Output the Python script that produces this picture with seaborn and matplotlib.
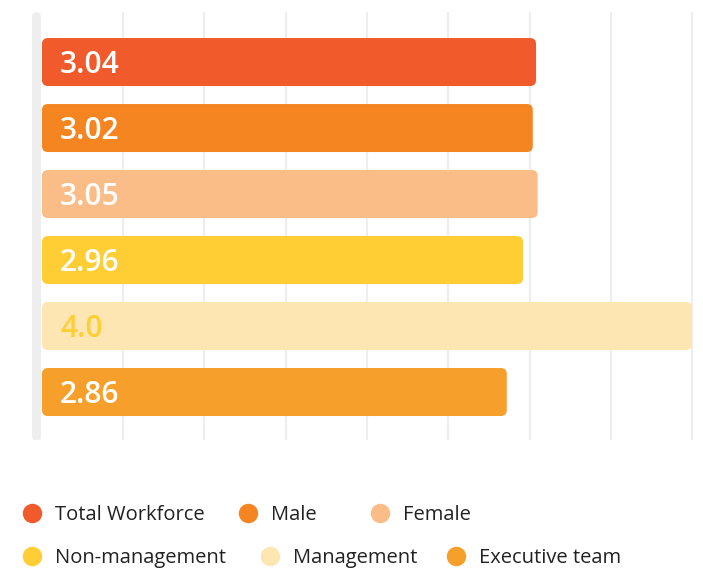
import numpy as np
import pandas as pd
import matplotlib
matplotlib.use('Agg')
import matplotlib.pyplot as plt
import seaborn as sns
from matplotlib.patches import FancyBboxPatch
from matplotlib.lines import Line2D

# ==============================
# Dados
# ==============================
grupos = ['Total Workforce', 'Male', 'Female', 'Non-management', 'Management', 'Executive team']
valores = [3.04, 3.02, 3.05, 2.96, 4.0, 2.86]
cores = ['#F15A2B', '#F58521', '#FBBD87', '#FFCD34', '#FEE6B2', '#F79F2B']
cor_texto = ['white', 'white', 'white', 'white', '#FFCD34', 'white']

df = pd.DataFrame({'grupo': grupos, 'valor': valores})

# ==============================
# Figura
# ==============================
sns.set_style('white')
plt.rcParams['font.family'] = ['Open Sans', 'DejaVu Sans']

W, H = 703, 568
fig = plt.figure(figsize=(W / 100, H / 100), dpi=100)
ax = fig.add_axes([30.6 / W, 1 - 440 / H, 664.7 / W, 428 / H])

sns.barplot(data=df, x='valor', y='grupo', hue='grupo', palette=cores,
            orient='h', width=48 / 66, legend=False, ax=ax, saturation=1)

# cantos arredondados
px_x = 162.5  # pixels por unidade em x
px_y = 66.0   # pixels por unidade em y
raio = 6 / px_x
for p in list(ax.patches):
    x0, y0, w, h = p.get_x(), p.get_y(), p.get_width(), p.get_height()
    nova = FancyBboxPatch((x0, y0), w, h,
                          boxstyle=f'round,pad=0,rounding_size={raio}',
                          mutation_aspect=px_x / px_y,
                          facecolor=p.get_facecolor(), edgecolor='none', zorder=3)
    p.remove()
    ax.add_patch(nova)

ax.set_xlim(-0.07, 4.02)
ax.set_ylim(len(grupos) - 1 + 0.727, -0.758)

ax.set_xticks(np.arange(0.5, 4.01, 0.5))
ax.set_yticks([])
ax.tick_params(axis='x', length=0, labelbottom=False)
ax.grid(axis='x', color='#eeeeee', linewidth=1.6, zorder=0)
ax.set_axisbelow(True)
for s in ax.spines.values():
    s.set_visible(False)
ax.set_xlabel('')
ax.set_ylabel('')

# linha do eixo
ax.axvline(-0.034, ymin=0.01, ymax=0.99, color='#eeeeee', linewidth=6.5,
           solid_capstyle='round', zorder=1)

# rótulos de valor
for i, v in enumerate(valores):
    ax.annotate(str(v), xy=(0, i), xytext=(18 * 0.72, -2.5), textcoords='offset points',
                ha='left', va='center', fontsize=21.5, fontweight='semibold',
                color=cor_texto[i], zorder=4)

# ==============================
# Legenda
# ==============================
pos_leg = [(22, 515), (238, 515), (370, 515), (22, 558), (260, 558), (446, 558)]
for i, g in enumerate(grupos):
    h = Line2D([], [], marker='o', linestyle='none', markersize=14,
               markerfacecolor=cores[i], markeredgecolor='none')
    leg = fig.legend(handles=[h], labels=[g], loc='center left',
                     bbox_to_anchor=(pos_leg[i][0] / W, 1 - pos_leg[i][1] / H),
                     frameon=False, fontsize=14.5, handlelength=1.0,
                     handletextpad=0.62, borderpad=0, borderaxespad=0)
    for t in leg.get_texts():
        t.set_color('#222222')

fig.savefig('out.png', dpi=100)
